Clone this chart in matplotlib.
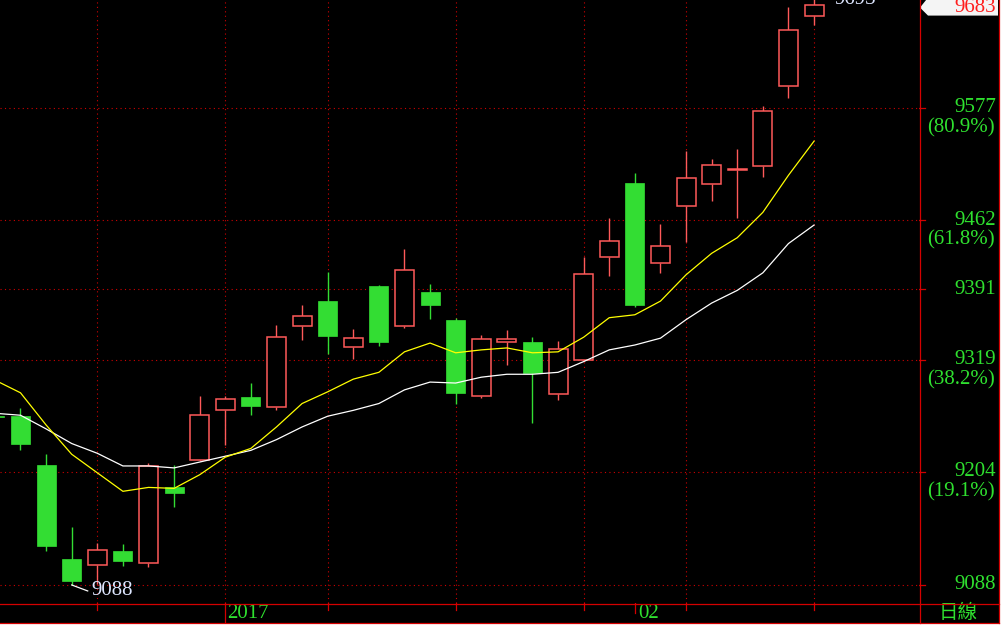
import matplotlib
matplotlib.use('Agg')
import matplotlib.pyplot as plt
from matplotlib.lines import Line2D
from matplotlib.patches import Rectangle, Polygon

# daily candles, index -1 is the one cut off at the left edge
opens = [9261, 9261, 9211, 9115, 9108, 9123, 9110, 9188, 9216, 9267, 9281, 9270, 9353, 9379, 9332, 9394, 9353,
         9388, 9360, 9282, 9337, 9337, 9284, 9319, 9424, 9500, 9418, 9477, 9499, 9513, 9518, 9600, 9671]
highs = [9262, 9269, 9222, 9147, 9131, 9130, 9213, 9211, 9282, 9282, 9295, 9354, 9375, 9409, 9350, 9396, 9432,
         9397, 9362, 9344, 9349, 9342, 9338, 9424, 9464, 9510, 9458, 9533, 9525, 9535, 9579, 9681, 9693]
lows = [9259, 9226, 9123, 9088, 9089, 9107, 9106, 9168, 9215, 9231, 9262, 9267, 9339, 9325, 9320, 9333, 9351,
        9361, 9274, 9280, 9314, 9254, 9278, 9318, 9405, 9373, 9408, 9440, 9482, 9464, 9506, 9587, 9662]
closes = [9260, 9232, 9128, 9092, 9124, 9113, 9210, 9182, 9262, 9279, 9271, 9342, 9364, 9343, 9341, 9337, 9411,
          9375, 9285, 9340, 9340, 9305, 9330, 9407, 9441, 9375, 9436, 9505, 9519, 9514, 9574, 9657, 9683]
ma_yellow = [9298, 9285, 9252, 9222, 9203, 9184, 9188, 9187, 9201, 9219, 9228, 9250, 9274, 9286, 9299, 9306, 9327,
             9336, 9326, 9329, 9331, 9326, 9327, 9342, 9362, 9365, 9379, 9406, 9428, 9444, 9470, 9508, 9543]
ma_white = [9264, 9262, 9248, 9233, 9223, 9210, 9210, 9208, 9214, 9220, 9226, 9237, 9250, 9261, 9267, 9274, 9288,
            9296, 9295, 9301, 9304, 9304, 9306, 9317, 9329, 9334, 9341, 9360, 9377, 9390, 9408, 9438, 9457]
first_index = -1

price_ticks = [9088, 9204, 9319, 9391, 9462, 9577]
pct_labels = ['', '(19.1%)', '(38.2%)', '', '(61.8%)', '(80.9%)']
grid_days = [3, 8, 12, 17, 22, 26, 31]
small_ticks = [3, 12, 17, 22, 26, 31]
month_ticks = [24]
month_labels = ['02']
year_ticks = [8]
year_labels = ['2017']
period_label = '日線'

W, H = 1005, 629
RED_UP = '#ff5a5a'
GREEN = '#33dd33'
GRID = '#d00000'
FRAME = '#d40000'
TXT_GREEN = '#2fe02f'
LABEL = '#dde6ff'
NUM_FONT = ['Liberation Serif', 'DejaVu Serif']

fig = plt.figure(figsize=(W / 100, H / 100), dpi=100)
fig.patch.set_facecolor('white')
fig.add_artist(Rectangle((0, 1 - 623 / H), 999 / W, 623 / H, transform=fig.transFigure,
                         facecolor='black', edgecolor='none', zorder=0))


def fig_line(x0, y0, x1, y1, color=FRAME, lw=0.9):
    fig.add_artist(Line2D([x0 / W, x1 / W], [1 - y0 / H, 1 - y1 / H], transform=fig.transFigure,
                          color=color, lw=lw, zorder=10))


main_bottom = 1 - 603 / H
ax = fig.add_axes([0, main_bottom, 919 / W, 603 / H])
ax.set_facecolor('none')
ax.set_xlim(-0.8008, 35.10)
ax.set_ylim(9069.5, 9687.7)
ax.axis('off')
ppu = (9687.7 - 9069.5) / 603.0  # price units per pixel
day_w = (35.10 + 0.8008) / 919.0

for p in price_ticks:
    ax.axhline(p, color=GRID, lw=0.8, ls=(0, (1, 3)), zorder=1)
for d in grid_days:
    ax.axvline(d, color=GRID, lw=0.8, ls=(0, (1, 3)), zorder=1)

body_w = 19 * day_w
for k in range(len(opens)):
    x = first_index + k
    o, h, l, c = opens[k], highs[k], lows[k], closes[k]
    if c >= o:
        top, bot = c, o
        ax.vlines(x, bot, l, color=RED_UP, lw=1.0, zorder=3)
        ax.vlines(x, top, h, color=RED_UP, lw=1.0, zorder=3)
        ax.add_patch(Rectangle((x - body_w / 2, bot), body_w, max(top - bot, 0.8), facecolor='black',
                               edgecolor=RED_UP, lw=1.1, zorder=4))
    else:
        ax.vlines(x, l, h, color=GREEN, lw=1.0, zorder=3)
        ax.add_patch(Rectangle((x - body_w / 2, c), body_w, o - c, facecolor=GREEN,
                               edgecolor=GREEN, lw=0.5, zorder=4))

xs = [first_index + k for k in range(len(opens))]
ax.plot(xs, ma_white, color='white', lw=0.9, zorder=5)
ax.plot(xs, ma_yellow, color='#ffff00', lw=0.9, zorder=5)

# low / high markers
i_low = lows.index(min(lows))
x_low = first_index + i_low
ax.plot([x_low, x_low + 16 * day_w], [lows[i_low], lows[i_low] - 6 * ppu], color='white', lw=0.9, zorder=6)
ax.text(x_low + 20 * day_w, lows[i_low] - 6 * ppu, str(min(lows)), color=LABEL, fontsize=15, family=NUM_FONT,
        ha='left', va='center', zorder=7)
i_high = highs.index(max(highs))
x_high = first_index + i_high
ax.text(x_high + 20 * day_w, max(highs) - 9.5 * ppu, str(max(highs)), color=LABEL, fontsize=15,
        family=NUM_FONT, ha='left', va='baseline', zorder=7, clip_on=False)

# right price scale
rax = fig.add_axes([919 / W, main_bottom, 80 / W, 603 / H])
rax.set_facecolor('none')
rax.set_xlim(0, 80)
rax.set_ylim(9069.5, 9687.7)
rax.axis('off')
for p, pct in zip(price_ticks, pct_labels):
    rax.plot([0, 6], [p, p], color=GRID, lw=0.9)
    rax.text(77, p, str(p), color=TXT_GREEN, fontsize=15, family=NUM_FONT, ha='right', va='center')
    if pct:
        rax.text(76, p - 20 * ppu, pct, color=TXT_GREEN, fontsize=15, family=NUM_FONT, ha='right', va='center')

last = closes[-1]
tag_y = last - 3 * ppu
rax.add_patch(Polygon([(1, tag_y), (9, tag_y + 10 * ppu), (79, tag_y + 10 * ppu), (79, tag_y - 8 * ppu),
                       (9, tag_y - 8 * ppu)], closed=True, facecolor='#f4f4f4', edgecolor='none',
                      clip_on=False, zorder=5))
rax.text(77, tag_y, str(last), color='#ff1e1e', fontsize=15, family=NUM_FONT, ha='right', va='center',
         clip_on=False, zorder=6)

# date axis
bax = fig.add_axes([0, 1 - 623 / H, 919 / W, 20 / H])
bax.set_facecolor('none')
bax.set_xlim(ax.get_xlim())
bax.set_ylim(20, 0)
bax.axis('off')
for d in small_ticks:
    bax.plot([d, d], [0, 7], color=FRAME, lw=0.9)
for d, lab in zip(month_ticks, month_labels):
    bax.plot([d, d], [0, 10], color=FRAME, lw=0.9)
    bax.text(d + 3 * day_w, 10.5, lab, color=TXT_GREEN, fontsize=15, family=NUM_FONT, ha='left', va='center')
for d, lab in zip(year_ticks, year_labels):
    bax.plot([d, d], [0, 20], color=FRAME, lw=0.9)
    bax.text(d + 2 * day_w, 10.5, lab, color=TXT_GREEN, fontsize=15, family=NUM_FONT, ha='left', va='center')

fig.text(958 / W, 1 - 613 / H, period_label, color=TXT_GREEN, fontsize=14,
         family=['Noto Sans CJK TC', 'DejaVu Sans'], ha='center', va='center')

fig_line(0, 603.5, 999, 603.5)
fig_line(0, 622.5, 999, 622.5)
fig_line(919.5, 0, 919.5, 623)
fig_line(998.5, 0, 998.5, 623)

fig.savefig('out.png', dpi=100, facecolor=fig.get_facecolor())
